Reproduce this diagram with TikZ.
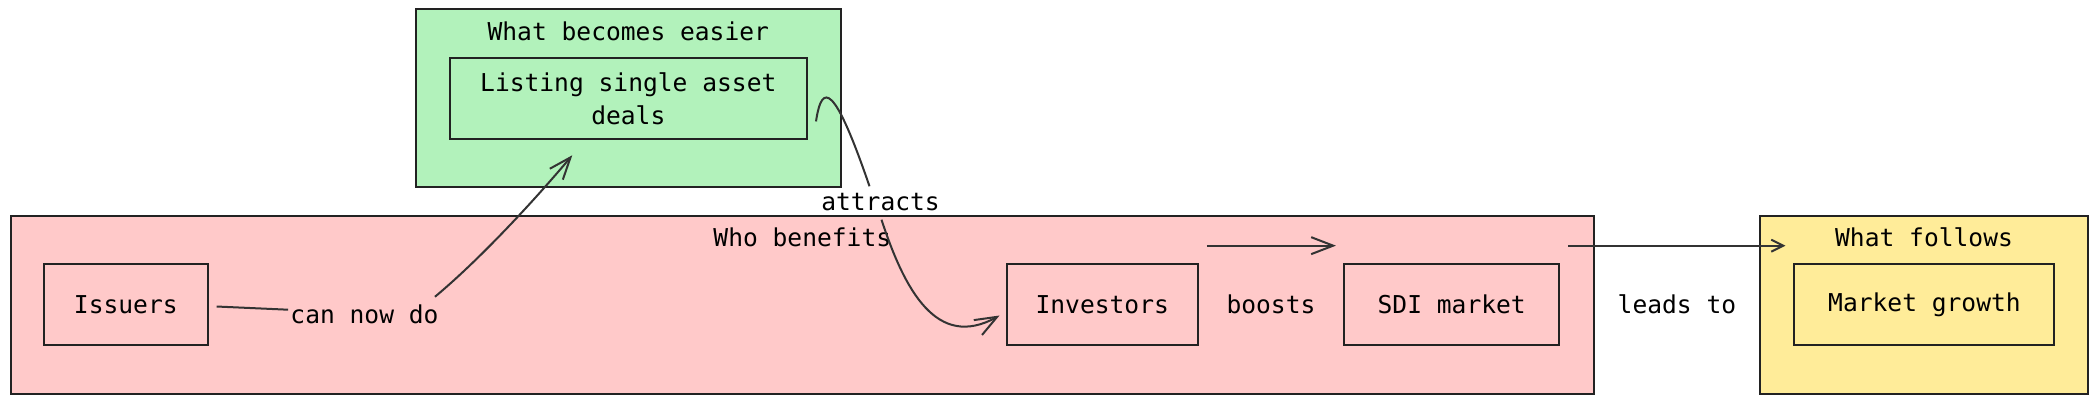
\documentclass[tikz,border=0pt]{standalone}
\usepackage{fontspec}
\setmainfont{DejaVu Sans Mono}
\usepackage{xcolor}
\usepackage{tikz}
\usetikzlibrary{positioning,arrows.meta}

\definecolor{groupgreen}{HTML}{B2F2BB}
\definecolor{grouppink}{HTML}{FFC9C9}
\definecolor{groupyellow}{HTML}{FFEC99}
\definecolor{inkgray}{HTML}{222222}
\definecolor{edgegray}{HTML}{333333}

\begin{document}
\begin{tikzpicture}[x=0.5pt, y=-0.5pt,
    group/.style={rectangle, draw=inkgray, line width=1pt, minimum height=89pt, inner sep=0pt},
    box/.style={rectangle, draw=inkgray, line width=1pt, minimum height=40.85pt, align=center, font=\fontsize{12.3}{16.5}\selectfont},
    title/.style={inner sep=0pt, font=\fontsize{12.3}{16.5}\selectfont},
    elabel/.style={inner sep=1pt, font=\fontsize{12.3}{16.5}\selectfont},
    link/.style={draw=edgegray, line width=1pt},
    arrow/.style={link, -{Straight Barb[length=11pt, width=8.5pt]}},
    smallarrow/.style={link, -{Straight Barb[length=6pt, width=6pt]}}]

    \useasboundingbox (0,0) rectangle (2099,403);

    \node [group, fill=grouppink, minimum width=791.7pt] (benefits) at (802.3,304.5) {};
    \node [group, fill=groupgreen, minimum width=212.3pt] (easier) at (628.3,98.4) {};
    \node [group, fill=groupyellow, minimum width=164pt] (follows) at (1924,304.5) {};

    \node [title, below=6.5pt of benefits.north] (benefitstitle) {Who benefits};
    \node [title, below=6.5pt of easier.north] (easiertitle) {What becomes easier};
    \node [title, below=6.5pt of follows.north] (followstitle) {What follows};

    \node [box, minimum width=81.75pt] (issuers) at (125.8,304.5) {Issuers};
    \node [box, minimum width=95.7pt, right=398.5pt of issuers] (investors) {Investors};
    \node [box, minimum width=107.75pt, right=72pt of investors] (sdi) {SDI market};
    \node [box, minimum width=130pt, right=116.5pt of sdi] (growth) {Market growth};
    \node [box, minimum width=178.7pt] (listing) at (easier) {Listing single asset\\deals};

    \node [elabel] (cannowdo) at (364.5,314.7) {can now do};
    \node [elabel] (attracts) at (880.5,202.5) {attracts};
    \path (investors) -- node [elabel] (boosts) {boosts} (sdi);
    \path (sdi) -- node [elabel] (leadsto) {leads to} (growth);

    \draw [link] ([shift={(8,2)}]issuers.east) -- ([shift={(0,-5)}]cannowdo.west);
    \draw [arrow] ([shift={(-6,-6)}]cannowdo.north east) .. controls +(42,-35) and +(-43,51) .. ([shift={(-56,15)}]listing.south);
    \draw [link] ([shift={(8,23)}]listing.east) .. controls +(6,-40) and +(-35,-102) .. ([shift={(-11,-5)}]attracts.north);
    \draw [arrow] ([shift={(1,6)}]attracts.south) .. controls +(23,70) and +(-63,35) .. ([shift={(-6,11)}]investors.west);
    \draw [arrow] ([shift={(8,-17)}]investors.north east) -- ([shift={(-7,-17)}]sdi.north west);
    \draw [smallarrow] ([shift={(8,-17)}]sdi.north east) -- ([shift={(-8,-17)}]growth.north west);
\end{tikzpicture}
\end{document}
